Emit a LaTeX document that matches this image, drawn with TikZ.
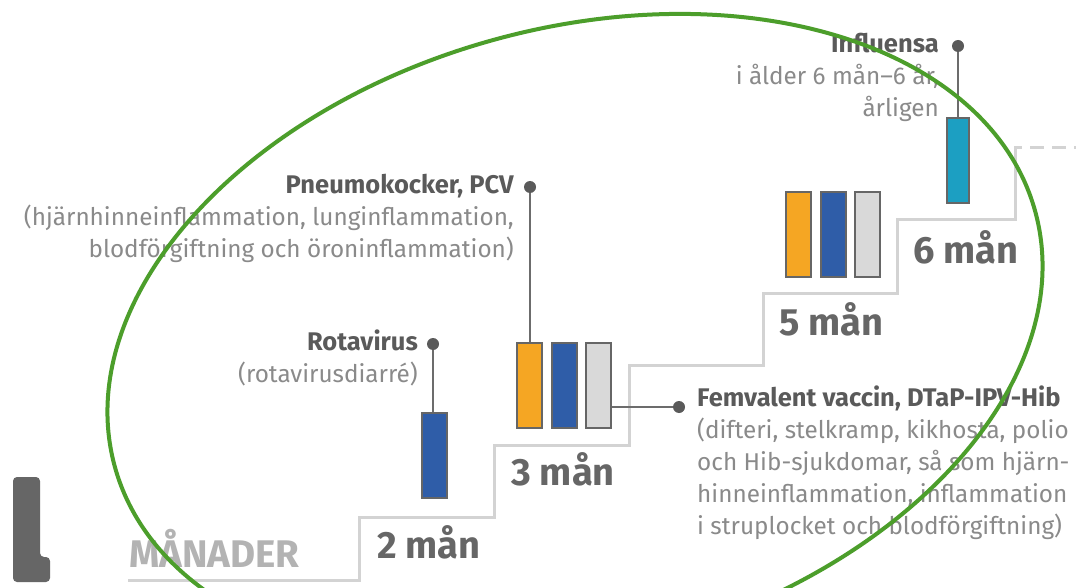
\documentclass[tikz,border=0pt]{standalone}
\usepackage{fontspec}
\setmainfont{Fira Sans}
\definecolor{vorange}{HTML}{F5A623}
\definecolor{vblue}{HTML}{2F5DA8}
\definecolor{vlight}{HTML}{D9D9D9}
\definecolor{vteal}{HTML}{1C9FC2}
\definecolor{vgreen}{HTML}{4C9E2B}
\definecolor{txtgray}{HTML}{8A8A8A}
\definecolor{boldgray}{HTML}{5A5A5A}
\definecolor{mangray}{HTML}{666666}
\definecolor{stairgray}{HTML}{D3D3D3}
\definecolor{axisgray}{HTML}{B3B3B3}
\newcommand{\vhead}[1]{{\fontsize{25.5}{32}\selectfont\bfseries\color{boldgray}#1}}
\tikzset{
  bar/.style={draw=mangray, line width=2pt, inner sep=0pt, minimum width=25pt, minimum height=85pt},
  dot/.style={circle, fill=boldgray, inner sep=0pt, minimum size=12pt},
  conn/.style={draw=gray!85!black, line width=2pt},
  stair/.style={draw=stairgray, line width=3pt},
  lbl/.style={inner sep=0pt, text=txtgray, font=\fontsize{24.3}{32}\selectfont},
  manlbl/.style={inner sep=0pt, text=mangray, font=\fontsize{38}{42}\selectfont\bfseries},
}
\begin{document}
\begin{tikzpicture}[x=1pt, y=-1pt]
\useasboundingbox[fill=white] (0,0) rectangle (1076,588);
% staircase
\draw[stair] (128,580) -- (359,580) -- (359,517) -- (494,517) -- (494,445) -- (629,445) -- (629,365) -- (763,365) -- (763,293) -- (897,293) -- (897,220) -- (1015,220) -- (1015,148) -- (1022,148);
\draw[stair, dash pattern=on 14pt off 8pt] (1030,148) -- (1076,148);
% left shape
\fill[mangray, rounded corners=4pt] (13,477) -- (40,477) -- (40,557) -- (50,557) -- (50,582) -- (13,582) -- cycle;
% axis label
\node[inner sep=0pt, text=axisgray, font=\fontsize{38.5}{42}\selectfont\bfseries, anchor=base west] (manader) at (129,567) {MÅNADER};
% month labels
\node[manlbl, anchor=base west] (m2) at (377,558) {2 mån};
\node[manlbl, anchor=base west] (m3) at (511,485) {3 mån};
\node[manlbl, anchor=base west] (m5) at (779,335) {5 mån};
\node[manlbl, anchor=base west] (m6) at (913,263) {6 mån};
% bars
\node[bar, fill=vblue] (rbar) at (434.5,455.5) {};
\node[bar, fill=vorange] (o3) at (529.5,385) {};
\node[bar, fill=vblue] (b3) at (564.5,385) {};
\node[bar, fill=vlight] (g3) at (598.5,385) {};
\node[bar, fill=vorange] (o5) at (798.5,234.5) {};
\node[bar, fill=vblue] (b5) at (833,234.5) {};
\node[bar, fill=vlight] (g5) at (867.5,234.5) {};
\node[bar, fill=vteal, minimum width=22pt] (ibar) at (958,161) {};
% dots
\node[dot] (rdot) at (433,344) {};
\node[dot] (pdot) at (530,187) {};
\node[dot] (fdot) at (679,407) {};
\node[dot] (idot) at (958,46) {};
% connectors
\draw[conn] (rdot) -- (rdot |- rbar.north);
\draw[conn] (pdot) -- (pdot |- o3.north);
\draw[conn] (fdot -| g3.east) -- (fdot);
\draw[conn] (idot) -- (ibar.north);
% labels (anchored at the baseline of the last line)
\node[lbl, align=right, anchor=base east] (itext) at (939,117) {\vhead{Influensa}\\i ålder 6 mån–6 år,\\årligen};
\node[lbl, align=right, anchor=base east] (ptext) at (514,257) {\vhead{Pneumokocker, PCV}\\(hjärnhinneinflammation, lunginflammation,\\blodförgiftning och öroninflammation)};
\node[lbl, align=right, anchor=base east] (rtext) at (418,382) {\vhead{Rotavirus}\\(rotavirusdiarré)};
\node[lbl, align=left, anchor=base west] (ftext) at (697,534) {\vhead{Femvalent vaccin, DTaP-IPV-Hib}\\(difteri, stelkramp, kikhosta, polio\\och Hib-sjukdomar, så som hjärn-\\hinneinflammation, inflammation\\i struplocket och blodförgiftning)};
% green ellipse
\draw[vgreen, line width=4pt, rotate around={15.6:(575,339)}] (575,339) ellipse [x radius=477.6pt, y radius=310pt];
\end{tikzpicture}
\end{document}
